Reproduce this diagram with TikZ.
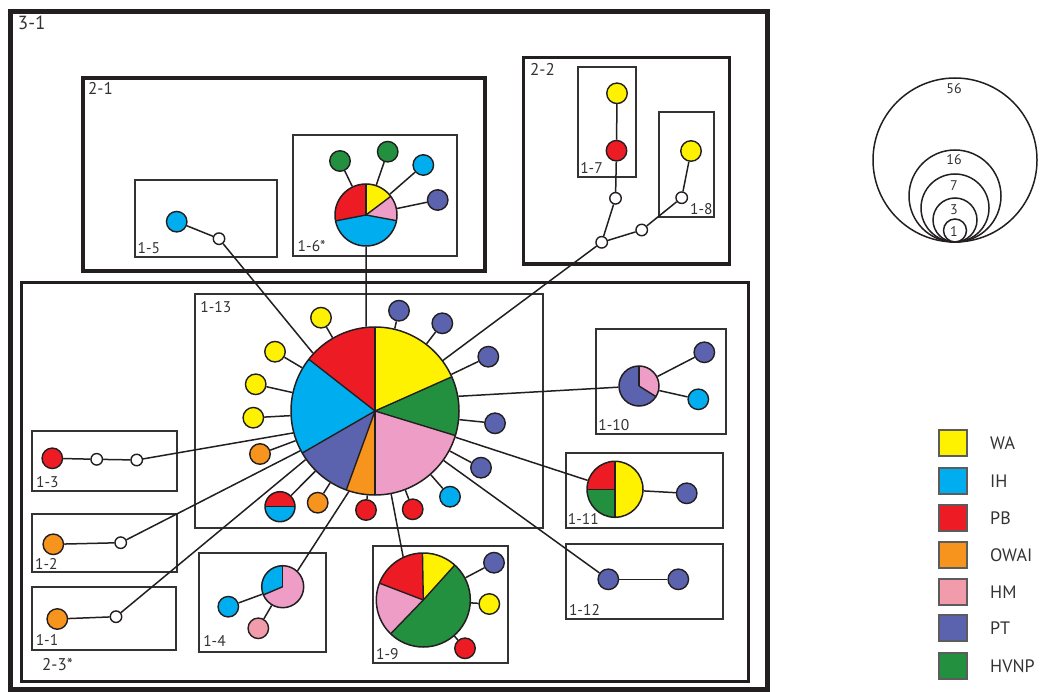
\documentclass[tikz,border=0pt]{standalone}
\usepackage{fontspec}
\setmainfont{PT Sans}
\definecolor{cWA}{HTML}{FFF200}
\definecolor{cIH}{HTML}{00AEEF}
\definecolor{cPB}{HTML}{ED1C24}
\definecolor{cOW}{HTML}{F7941D}
\definecolor{cHM}{HTML}{EE9DC7}
\definecolor{cHMl}{HTML}{F29CAB}
\definecolor{cPT}{HTML}{5B63AE}
\definecolor{cHV}{HTML}{23903F}
\definecolor{lc}{HTML}{231F20}
\definecolor{tc}{HTML}{333333}
\tikzset{
  pl/.style={draw=lc, line width=1.4pt},
  ln/.style={draw=lc, line width=1.5pt},
  sat/.style={circle, draw=lc, line width=1.4pt, minimum size=20.5pt, inner sep=0pt, fill=#1},
  hap/.style={circle, draw=lc, line width=1.4pt, minimum size=11.5pt, inner sep=0pt, fill=white},
  thinbox/.style={draw=tc, line width=1.8pt},
  midbox/.style={draw=lc, line width=3.4pt},
  bigbox/.style={draw=lc, line width=5pt},
  lab/.style={text=tc, font=\fontsize{15.5}{15.5}\selectfont, inner sep=0pt},
  labm/.style={text=tc, font=\fontsize{17}{17}\selectfont, inner sep=0pt},
  sizec/.style={circle, draw=lc, line width=1.5pt, inner sep=0pt},
  sizel/.style={text=tc, font=\fontsize{14}{14}\selectfont, inner sep=0pt},
  legsq/.style={draw=tc!80, line width=1.6pt, minimum width=28pt, minimum height=26pt, inner sep=0pt, fill=#1},
  legt/.style={text=tc, font=\fontsize{18}{18}\selectfont, inner sep=0pt, anchor=west}
}
\newcommand{\mypie}[4]{%
  \foreach \a/\b/\c in {#4} {
    \fill[\c] (#2) -- ++(\a:#3pt) arc[start angle=\a, end angle=\b, radius=#3pt] -- cycle;
  }
  \foreach \a/\b/\c in {#4} { \draw[pl] (#2) -- ++(\a:#3pt); }
  \node[circle, draw=lc, line width=1.5pt, minimum size=2*#3pt, inner sep=0pt] (#1) at (#2) {};
}
\begin{document}
\begin{tikzpicture}[x=1pt, y=1pt]
\useasboundingbox (0,0) rectangle (1043,-692);
% ---------- frames ----------
\draw[bigbox] (10,-11.7) rectangle (767,-689);
\draw[midbox] (83,-78) rectangle (485,-271);
\draw[midbox] (523.7,-57.5) rectangle (729.7,-264);
\draw[midbox] (21.7,-282.7) rectangle (748.3,-681.5);
\draw[thinbox] (135,-180) rectangle (276.7,-257.3);
\draw[thinbox] (292.7,-135) rectangle (456.7,-255.7);
\draw[thinbox] (577.7,-66.7) rectangle (635.7,-176.7);
\draw[thinbox] (659,-111.7) rectangle (714.3,-217.3);
\draw[thinbox] (195,-294.3) rectangle (543.3,-528.3);
\draw[thinbox] (596,-329) rectangle (725.7,-434.3);
\draw[thinbox] (565.7,-452.7) rectangle (723.3,-528.3);
\draw[thinbox] (565.7,-544.3) rectangle (723.3,-619.3);
\draw[thinbox] (373.3,-546) rectangle (508.3,-662.7);
\draw[thinbox] (199,-553.3) rectangle (325.7,-651.7);
\draw[thinbox] (31.7,-430.7) rectangle (177.3,-491);
\draw[thinbox] (31.7,-514.3) rectangle (177.3,-572.3);
\draw[thinbox] (31.7,-586.7) rectangle (175.7,-650);
% ---------- labels ----------
\node[labm, font=\fontsize{19}{19}\selectfont] (L31) at (31.7,-23.3) {3-1};
\node[labm] (L21) at (100.5,-88) {2-1};
\node[labm] (L22) at (542.5,-69) {2-2};
\node[labm] (L23) at (57.5,-665) {2-3*};
\node[lab] (L15) at (148.8,-248) {1-5};
\node[lab] (L16) at (311.7,-246.5) {1-6*};
\node[lab] (L17) at (591.5,-168) {1-7};
\node[lab] (L18) at (701.3,-209) {1-8};
\node[lab] (L113) at (215.8,-307) {1-13};
\node[lab] (L13) at (47.3,-482) {1-3};
\node[lab] (L12) at (46.3,-563.7) {1-2};
\node[lab] (L11) at (47,-640.3) {1-1};
\node[lab] (L14) at (214.5,-641.3) {1-4};
\node[lab] (L19) at (387.3,-653.7) {1-9};
\node[lab] (L111) at (583.3,-519) {1-11};
\node[lab] (L112) at (584.5,-610) {1-12};
\node[lab] (L110) at (613.8,-425.5) {1-10};
% ---------- pies ----------
\mypie{big}{375,-411}{84}{24/90/cWA, 90/142/cPB, 142/210/cIH, 210/250/cPT, 250/270/cOW, 270/343/cHM, 343/384/cHV}
\mypie{p16}{366,-215}{31}{37/90/cWA, 90/191/cPB, 191/349.5/cIH, 349.5/397/cHM}
\mypie{p19}{423.3,-600}{47}{48/91/cWA, 91/159/cPB, 159/226/cHM, 226/408/cHV}
\mypie{p110}{639,-386}{20}{-32/90/cHM, 90/328/cPT}
\mypie{p111}{615,-489.3}{28}{-90/90/cWA, 90/180/cPB, 180/270/cHV}
\mypie{p14}{282.7,-586.7}{21}{90/203/cIH, 203/450/cHM}
\mypie{hb}{280,-506.7}{15}{0/180/cPB, 180/360/cIH}
% ---------- satellites of 1-13 ----------
\node[sat=cWA] (s1) at (321,-317.7) {};
\node[sat=cWA] (s2) at (275,-351.7) {};
\node[sat=cWA] (s3) at (255.7,-384.3) {};
\node[sat=cWA] (s4) at (253.3,-417.7) {};
\node[sat=cOW] (s5) at (260,-454) {};
\node[sat=cOW] (s6) at (317.7,-502.7) {};
\node[sat=cPB] (s7) at (366,-510) {};
\node[sat=cPB] (s8) at (412.7,-509.3) {};
\node[sat=cIH] (s9) at (450,-496.7) {};
\node[sat=cPT] (s10) at (481,-467.7) {};
\node[sat=cPT] (s11) at (495,-423.3) {};
\node[sat=cPT] (s12) at (488.3,-356.7) {};
\node[sat=cPT] (s13) at (442.3,-323.3) {};
\node[sat=cPT] (s14) at (399,-310.7) {};
\foreach \s in {s1,s2,s3,s4,s5,hb,s6,s7,s8,s9,s10,s11,s12,s13,s14} {\draw[ln] (\s) -- (big);}
% ---------- 1-6 ----------
\node[sat=cHV] (g1) at (340,-161) {};
\node[sat=cHV] (g2) at (387.7,-151.7) {};
\node[sat=cIH] (b16) at (423.3,-165) {};
\node[sat=cPT] (t16) at (437.7,-200) {};
\foreach \s in {g1,g2,b16,t16} {\draw[ln] (\s) -- (p16);}
\draw[ln] (p16.south) -- (big.96);
% ---------- 1-5 ----------
\node[sat=cIH] (b15) at (176.7,-221.7) {};
\node[hap] (w15) at (219,-238.7) {};
\draw[ln] (b15) -- (w15);
\draw[ln] (w15) -- (big.137);
% ---------- 2-2 ----------
\node[sat=cWA] (y7) at (617,-93.3) {};
\node[sat=cPB] (r7) at (616.5,-150.7) {};
\node[hap] (w1) at (615.5,-198.3) {};
\node[hap] (wj) at (601.7,-242.3) {};
\node[hap] (w2) at (641.7,-230) {};
\node[hap] (w3) at (681.7,-197.7) {};
\node[sat=cWA] (y8) at (691,-151) {};
\draw[ln] (y7) -- (r7);
\draw[ln] (r7) -- (w1);
\draw[ln] (w1) -- (wj);
\draw[ln] (wj) -- (w2);
\draw[ln] (w2) -- (w3);
\draw[ln] (w3) -- (y8);
\draw[ln] (wj) -- (big);
% ---------- 1-10 ----------
\node[sat=cPT] (t110) at (704.3,-352.3) {};
\node[sat=cIH] (b110) at (698.3,-399.3) {};
\draw[ln] (p110) -- (t110);
\draw[ln] (p110) -- (b110);
\draw[ln] (p110) -- (big.10);
% ---------- 1-11 ----------
\node[sat=cPT] (t111) at (686.7,-493.3) {};
\draw[ln] (p111) -- (t111);
\draw[ln] (p111) -- (big);
% ---------- 1-12 ----------
\node[sat=cPT] (t1) at (608.3,-579.3) {};
\node[sat=cPT] (t2) at (678.3,-579.3) {};
\draw[ln] (t1) -- (t2);
\draw[ln] (t1) -- (big);
% ---------- 1-9 ----------
\node[sat=cPT] (t19) at (494,-562.7) {};
\node[sat=cWA] (y19) at (489.3,-604) {};
\node[sat=cPB] (r19) at (465,-648.3) {};
\foreach \s in {t19,y19,r19} {\draw[ln] (\s) -- (p19);}
\draw[ln] (p19.115) -- (big.281);
% ---------- 1-4 ----------
\node[sat=cIH] (b14) at (228.3,-606.7) {};
\node[sat=cHMl] (h14) at (258.3,-628.3) {};
\draw[ln] (b14) -- (p14);
\draw[ln] (h14) -- (p14);
\draw[ln] (p14.47) -- (big.252);
% ---------- 1-3, 1-2, 1-1 ----------
\node[sat=cPB] (r13) at (52.3,-458.3) {};
\node[hap] (w3a) at (96.7,-459.3) {};
\node[hap] (w3b) at (136.7,-460) {};
\draw[ln] (r13) -- (w3a);
\draw[ln] (w3a) -- (w3b);
\draw[ln] (w3b) -- (big.195);
\node[sat=cOW] (o12) at (53.3,-544.3) {};
\node[hap] (w2a) at (120.7,-542.7) {};
\draw[ln] (o12) -- (w2a);
\draw[ln] (w2a) -- (big.208);
\node[sat=cOW] (o11) at (57.3,-619) {};
\node[hap] (w1a) at (116,-616.7) {};
\draw[ln] (o11) -- (w1a);
\draw[ln] (w1a) -- (big.215);
% ---------- size legend ----------
\node[sizec, minimum size=164pt] (c56) at (955,-160) {};
\node[sizec, minimum size=92pt] (c16) at (955,-196) {};
\node[sizec, minimum size=68pt] (c7) at (955,-208) {};
\node[sizec, minimum size=44pt] (c3) at (955,-220) {};
\node[sizec, minimum size=23pt] (c1) at (955,-230.5) {};
\node[sizel] (n56) at (954,-89) {56};
\node[sizel] (n16) at (954,-160) {16};
\node[sizel] (n7) at (954,-186) {7};
\node[sizel] (n3) at (954,-210) {3};
\node[sizel] (n1) at (954,-231.5) {1};
% ---------- colour legend ----------
\foreach \y/\c/\t/\n in {443/cWA/WA/a, 481/cIH/IH/b, 518/cPB/PB/c, 555/cOW/OWAI/d, 592/cHMl/HM/e, 628/cPT/PT/f, 666/cHV/HVNP/g} {
  \node[legsq=\c] (sq\n) at (953,-\y) {};
  \node[legt] (tx\n) at (990,-\y) {\t};
}
\end{tikzpicture}
\end{document}
